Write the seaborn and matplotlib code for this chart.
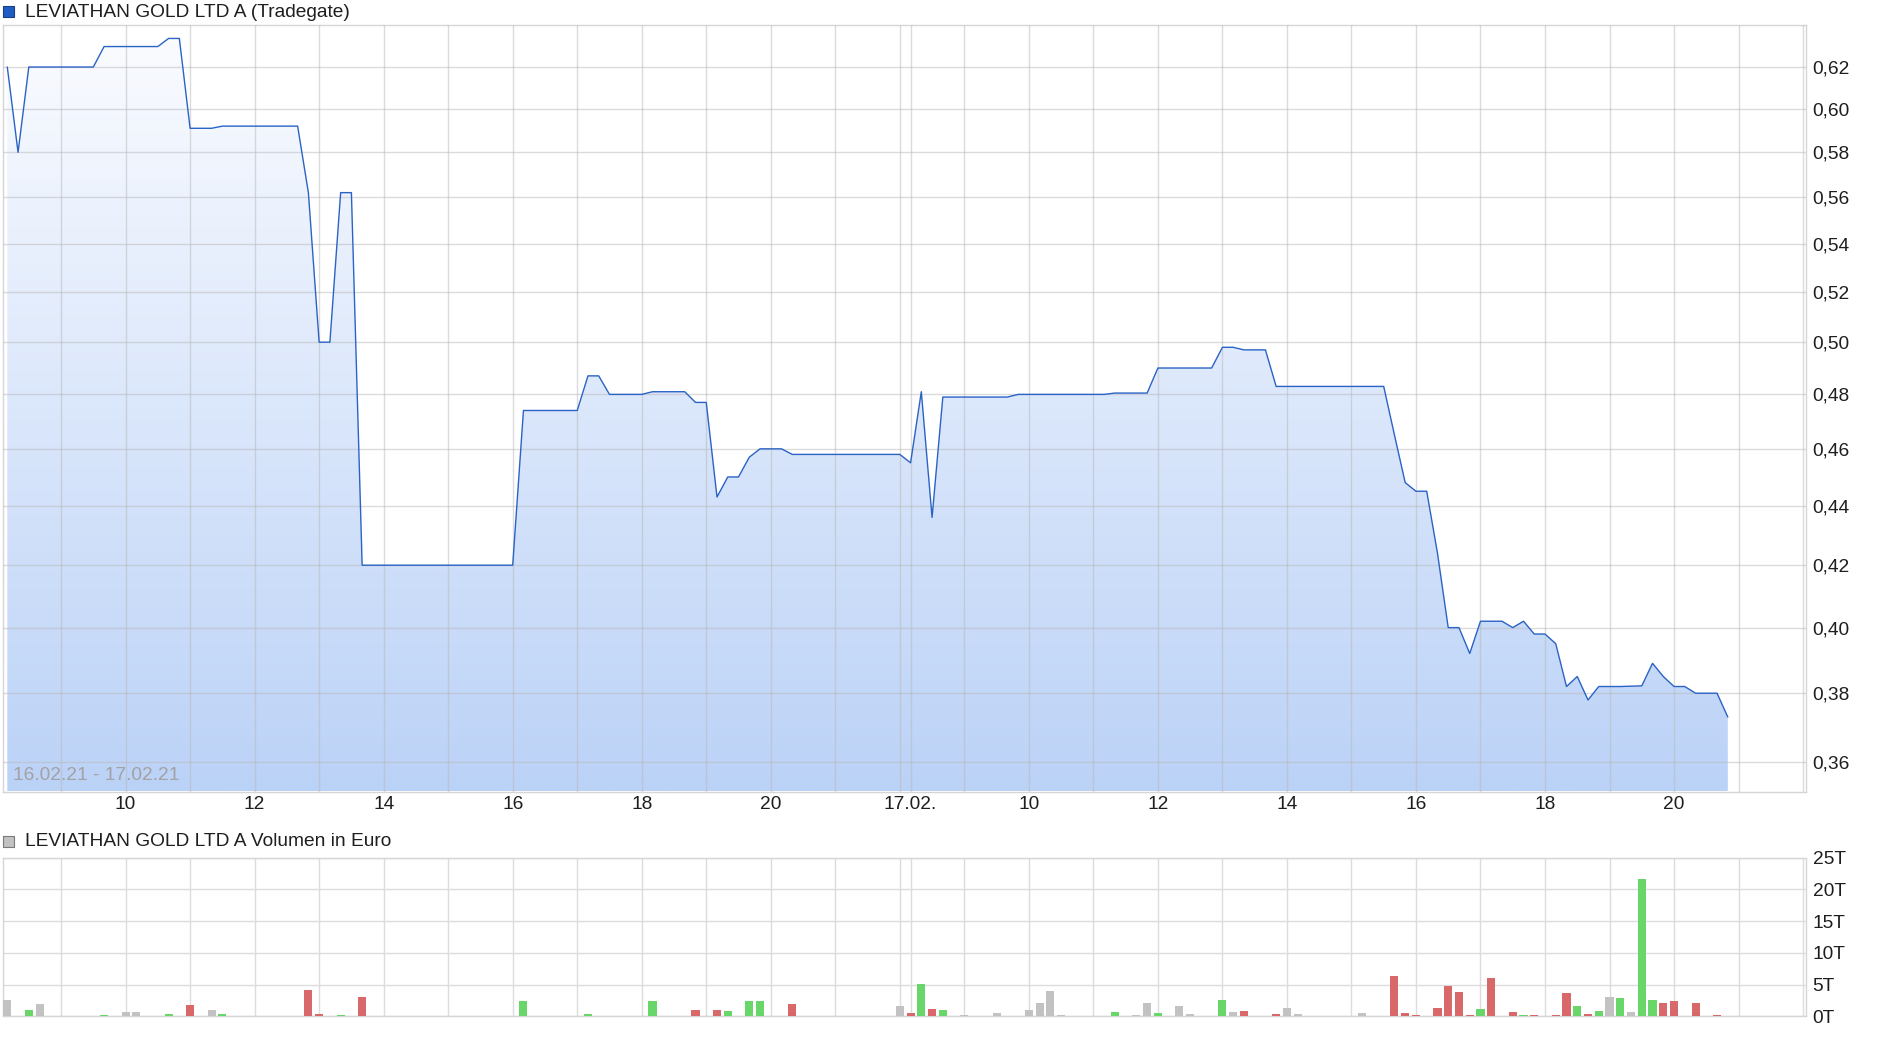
#!/usr/bin/env python

import numpy as np
import pandas as pd
import matplotlib
matplotlib.use("Agg")
import matplotlib.pyplot as plt
from matplotlib.patches import Rectangle
from matplotlib.ticker import FixedLocator, NullLocator, FuncFormatter
import seaborn as sns

sns.set_style("white")
plt.rcParams["font.family"] = ["Liberation Sans", "DejaVu Sans"]
FS = 13.8

# ---- price data (Tradegate, 10 minute slots) ----
day1_times = ["08:10", "08:20", "08:30", "09:30", "09:40", "10:30", "10:40", "10:50",
              "11:00", "11:20", "11:30", "12:40", "12:50", "13:00", "13:10", "13:20",
              "13:30", "13:40", "16:00", "16:10", "17:00", "17:10", "17:20", "17:30",
              "18:00", "18:10", "18:40", "18:50", "19:00", "19:10", "19:20", "19:30",
              "19:40", "19:50", "20:10", "20:20", "22:00"]
day1_price = [0.620, 0.580, 0.620, 0.620, 0.630, 0.630, 0.634, 0.634,
              0.591, 0.591, 0.592, 0.592, 0.562, 0.500, 0.500, 0.562,
              0.562, 0.420, 0.420, 0.474, 0.474, 0.487, 0.487, 0.480,
              0.480, 0.481, 0.481, 0.477, 0.477, 0.443, 0.450, 0.450,
              0.457, 0.460, 0.460, 0.458, 0.458]

day2_times = ["08:10", "08:20", "08:30", "08:40", "09:40", "09:50", "11:10", "11:20",
              "11:50", "12:00", "12:50", "13:00", "13:10", "13:20", "13:40", "13:50",
              "15:30", "15:40", "15:50", "16:00", "16:10", "16:20", "16:30", "16:40",
              "16:50", "17:00", "17:20", "17:30", "17:40", "17:50", "18:00", "18:10",
              "18:20", "18:30", "18:40", "18:50", "19:10", "19:30", "19:40", "19:50",
              "20:00", "20:10", "20:20", "20:40", "20:50"]
day2_price = [0.455, 0.481, 0.436, 0.479, 0.479, 0.480, 0.480, 0.4805,
              0.4805, 0.490, 0.490, 0.498, 0.498, 0.497, 0.497, 0.483,
              0.483, 0.465, 0.448, 0.445, 0.445, 0.424, 0.400, 0.400,
              0.392, 0.402, 0.402, 0.400, 0.402, 0.398, 0.398, 0.395,
              0.382, 0.385, 0.378, 0.382, 0.382, 0.3822, 0.389, 0.385,
              0.382, 0.382, 0.380, 0.380, 0.373]

# ---- volume data (thousand euro), u = up, d = down, n = unchanged ----
vol_day = [0] * 26 + [1] * 55
vol_time = ["08:10", "08:20", "08:30", "08:40", "09:40", "10:00", "10:10", "10:40",
            "11:00", "11:20", "11:30", "12:50", "13:00", "13:20", "13:40", "16:10",
            "17:10", "17:30", "18:10", "18:50", "19:10", "19:20", "19:40", "19:50",
            "20:20", "22:00",
            "08:10", "08:20", "08:30", "08:40", "08:50", "09:00", "09:30", "09:50",
            "10:00", "10:10", "10:20", "10:30", "11:20", "11:40", "11:50", "12:00",
            "12:20", "12:30", "12:40", "12:50", "13:00", "13:10", "13:20", "13:50",
            "14:00", "14:10", "15:10", "15:40", "15:50", "16:00", "16:20", "16:30",
            "16:40", "16:50", "17:00", "17:10", "17:30", "17:40", "17:50", "18:10",
            "18:20", "18:30", "18:40", "18:50", "19:00", "19:10", "19:20", "19:30",
            "19:40", "19:50", "20:00", "20:20", "20:40", "20:50"]
vol_value = [2.62, 0.10, 1.00, 1.94, 0.20, 0.68, 0.68, 0.37,
             1.78, 1.00, 0.37, 4.14, 0.37, 0.20, 3.04, 2.41,
             0.37, 0.10, 2.41, 1.00, 1.00, 0.84, 2.41, 2.41,
             1.94, 1.62,
             0.52, 5.08, 1.20, 1.00, 0.10, 0.20, 0.52, 0.10,
             1.00, 2.10, 3.98, 0.20, 0.68, 0.20, 2.10, 0.52,
             1.62, 0.37, 0.10, 0.10, 2.57, 0.68, 0.84, 0.37,
             1.31, 0.37, 0.52, 6.34, 0.52, 0.20, 1.31, 4.77,
             3.83, 0.20, 1.15, 6.03, 0.68, 0.20, 0.20, 0.20,
             3.67, 1.62, 0.37, 0.84, 3.04, 2.88, 0.68, 21.65,
             2.57, 2.10, 2.41, 2.10, 0.20, 0.10]
vol_dir = ["n", "d", "u", "n", "u", "n", "n", "u", "d", "n", "u", "d", "d", "u", "d", "u",
           "u", "d", "u", "d", "d", "u", "u", "u", "d", "n",
           "d", "u", "d", "u", "d", "n", "n", "u", "n", "n", "n", "n", "u", "n", "n", "u",
           "n", "n", "n", "n", "u", "n", "d", "d", "n", "n", "n", "d", "d", "d", "d", "d",
           "d", "d", "u", "d", "d", "u", "d", "d", "d", "u", "d", "u", "n", "u", "n", "u",
           "u", "d", "d", "d", "d", "d"]

price_ticks = [0.36, 0.38, 0.40, 0.42, 0.44, 0.46, 0.48, 0.50, 0.52, 0.54, 0.56, 0.58, 0.60, 0.62]
vol_ticks = [0, 5, 10, 15, 20, 25]
hour_labels = [10, 12, 14, 16, 18, 20]
date_label = "17.02."
title_price = "LEVIATHAN GOLD LTD A (Tradegate)"
title_vol = "LEVIATHAN GOLD LTD A Volumen in Euro"
range_label = "16.02.21 - 17.02.21"

SLOTS_PER_DAY = 84  # 08:10 .. 22:00


def slot(day, hhmm):
    h, m = map(int, hhmm.split(":"))
    return day * SLOTS_PER_DAY + ((h * 60 + m) - (8 * 60 + 10)) / 10.0


price = pd.DataFrame({
    "slot": [slot(0, t) for t in day1_times] + [slot(1, t) for t in day2_times],
    "price": day1_price + day2_price,
})
vol = pd.DataFrame({
    "slot": [slot(d, t) for d, t in zip(vol_day, vol_time)],
    "value": vol_value,
    "dir": vol_dir,
})

LINE = "#2a63c6"
COLORS = {"u": "#69d66a", "d": "#d9686a", "n": "#c2c2c2"}
GRID = "#b8b8b8"
TXT = "#1e1e1e"
Y_MIN, Y_MAX = 0.3519, 0.6407
X_MIN, X_MAX = -0.4, 167.3

W, H = 1880, 1037
fig = plt.figure(figsize=(W / 100, H / 100), dpi=100)


def fx(px):
    return px / W


def fy(py):
    return 1 - py / H


ax = fig.add_axes([fx(3), fy(791.5), fx(1806.3 - 3), (791.5 - 25) / H])
axv = fig.add_axes([fx(3), fy(1016.3), fx(1806.3 - 3), (1016.3 - 857.5) / H])

# grid positions: every full hour + date change
grid_pos = [slot(d, f"{h:02d}:00") for d in (0, 1) for h in range(9, 23)] + [slot(1, "08:10")]
grid_pos = sorted(grid_pos)
lab_map = {slot(d, f"{h:02d}:00"): str(h) for d in (0, 1) for h in hour_labels}
lab_map[slot(1, "08:10")] = date_label
grid_labels = [lab_map.get(p, "") for p in grid_pos]

# ---- price panel ----
ax.set_yscale("log")
sns.lineplot(data=price, x="slot", y="price", ax=ax, color=LINE, linewidth=1.0,
             estimator=None, sort=False, zorder=4)
poly = ax.fill_between(price["slot"], price["price"], Y_MIN, facecolor="none",
                       edgecolor="none")
top_c = np.array([251, 252, 255]) / 255
bot_c = np.array([187, 210, 247]) / 255
g = np.linspace(0, 1, 256)[:, None]
grad = (top_c[None, None, :] * (1 - g[..., None]) + bot_c[None, None, :] * g[..., None])
im = ax.imshow(grad, extent=(0, 1, 0, 1), transform=ax.transAxes, aspect="auto",
               origin="upper", zorder=1, interpolation="bilinear")
im.set_clip_path(poly.get_paths()[0], transform=ax.transData)

ax.set_xlim(X_MIN, X_MAX)
ax.set_ylim(Y_MIN, Y_MAX)
ax.set_axisbelow(False)
ax.yaxis.set_major_locator(FixedLocator(price_ticks))
ax.yaxis.set_minor_locator(NullLocator())
ax.yaxis.set_major_formatter(FuncFormatter(lambda v, p: f"{v:.2f}".replace(".", ",")))
ax.yaxis.tick_right()
ax.set_xticks(grid_pos)
ax.set_xticklabels(grid_labels)
ax.grid(True, color=GRID, alpha=0.5, linewidth=1.0)
ax.tick_params(axis="both", length=0, labelsize=FS, labelcolor=TXT)
ax.tick_params(axis="y", pad=4.5)
ax.tick_params(axis="x", pad=3.5)
ax.set_xlabel("")
ax.set_ylabel("")
for s in ax.spines.values():
    s.set_color("#d6d6d6")
    s.set_linewidth(1.0)
ax.text((12.7 - 3) / 1803.3, (791.5 - 775.7) / 766.5, range_label, transform=ax.transAxes,
        ha="left", va="center", fontsize=FS, color="#a2a2a2", zorder=5)

# ---- volume panel ----
axv.bar(vol["slot"], vol["value"], width=0.75, color=[COLORS[c] for c in vol["dir"]],
        zorder=3, linewidth=0)
axv.set_xlim(X_MIN, X_MAX)
axv.set_ylim(0, 25)
axv.set_axisbelow(True)
axv.yaxis.set_major_locator(FixedLocator(vol_ticks))
axv.yaxis.set_major_formatter(FuncFormatter(lambda v, p: f"{int(v)}T"))
axv.yaxis.tick_right()
axv.set_xticks(grid_pos)
axv.set_xticklabels([])
axv.grid(True, color="#dcdcdc", linewidth=1.0)
axv.tick_params(axis="both", length=0, labelsize=FS, labelcolor=TXT)
axv.tick_params(axis="y", pad=4.5)
for s in axv.spines.values():
    s.set_color("#d6d6d6")
    s.set_linewidth(1.0)

# ---- headers ----
fig.add_artist(Rectangle((fx(3.3), fy(16.7)), fx(11), 11 / H, transform=fig.transFigure,
                         facecolor="#1f5cc4", edgecolor="#163f88", linewidth=0.8))
fig.text(fx(25), fy(12.3), title_price, ha="left", va="center", fontsize=FS, color=TXT)
fig.add_artist(Rectangle((fx(3.3), fy(847)), fx(11), 11 / H, transform=fig.transFigure,
                         facecolor="#c2c2c2", edgecolor="#7a7a7a", linewidth=0.8))
fig.text(fx(25), fy(841), title_vol, ha="left", va="center", fontsize=FS, color=TXT)

fig.savefig("out.png", dpi=100)
plt.close("all")
